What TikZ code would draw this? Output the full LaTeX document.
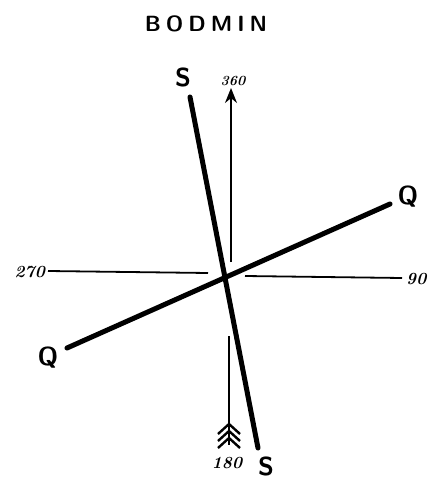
\documentclass[tikz,border=0pt]{standalone}
\usepackage{fontspec}
\usetikzlibrary{arrows.meta}
\begin{document}
\begin{tikzpicture}[x=1pt,y=-1pt,
  axis/.style={line width=1.8pt},
  bar/.style={line width=5pt,line cap=round},
  lbl/.style={font=\sffamily\bfseries\fontsize{26}{26}\selectfont,inner sep=0pt},
  num/.style={font=\bfseries\itshape\fontsize{17}{17}\selectfont,inner sep=0pt}]
\useasboundingbox (0,0) rectangle (443,486);
\node[font=\sffamily\bfseries\fontsize{22}{22}\selectfont] (title) at (206,24)
  {B\kern5pt O\kern5pt D\kern5pt M\kern5pt I\kern5pt N};
% runway S
\coordinate (s1) at (190,97);
\coordinate (s2) at (258,448);
\draw[bar] (s1) -- (s2);
\node[lbl] (stop) at (183,77) {S};
\node[lbl] (sbot) at (266,466) {S};
% runway Q
\coordinate (q1) at (67,348);
\coordinate (q2) at (390,204);
\draw[bar] (q1) -- (q2);
\node[lbl] (qleft) at (48,358) {Q};
\node[lbl] (qright) at (408,197) {Q};
% compass
\node[num,font=\bfseries\itshape\fontsize{14}{14}\selectfont] (n360) at (233,81) {360};
\coordinate (c1) at (231,262);
\coordinate (c2) at (231,88);
\draw[axis,-{Stealth[length=15pt,width=12pt]}] (c1) -- (c2);
\node[num,anchor=east] (n270) at (45,272) {270};
\coordinate (w1) at (48,271);
\coordinate (w2) at (208,273);
\draw[axis] (w1) -- (w2);
\node[num,anchor=west] (n90) at (406,279) {90};
\coordinate (e1) at (245,276);
\coordinate (e2) at (402,278);
\draw[axis] (e1) -- (e2);
\coordinate (tail) at (229,445);
\coordinate (b1) at (229,336);
\draw[axis] (b1) -- (tail);
\foreach \y in {424,431,438}
  \draw[axis,line width=2.4pt] (218,\y+10) -- (229,\y) -- (240,\y+10);
\node[num] (n180) at (227,463) {180};
\end{tikzpicture}
\end{document}
